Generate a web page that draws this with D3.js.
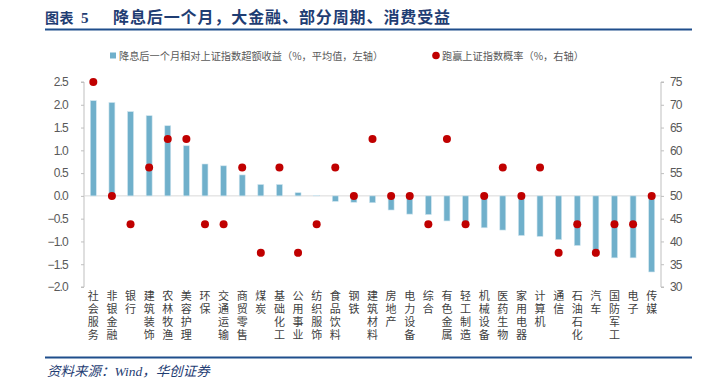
<!DOCTYPE html>
<html><head><meta charset="utf-8">
<script src="https://cdn.jsdelivr.net/npm/d3@7/dist/d3.min.js"></script>
<style>
body{margin:0;background:#fff;}
svg{display:block;}
</style></head>
<body>
<svg id="c" width="702" height="383"></svg>
<script>
const categories = ["社会服务","非银金融","银行","建筑装饰","农林牧渔","美容护理","环保","交通运输","商贸零售","煤炭","基础化工","公用事业","纺织服饰","食品饮料","钢铁","建筑材料","房地产","电力设备","综合","有色金属","轻工制造","机械设备","医药生物","家用电器","计算机","通信","石油石化","汽车","国防军工","电子","传媒"];
const excessReturn = [2.09,2.05,1.85,1.76,1.54,1.10,0.70,0.66,0.46,0.25,0.25,0.07,0.01,-0.12,-0.14,-0.15,-0.31,-0.40,-0.41,-0.55,-0.64,-0.70,-0.75,-0.87,-0.89,-0.96,-1.09,-1.21,-1.36,-1.36,-1.67];
const winRate = [75,50,43.75,56.25,62.5,62.5,43.75,43.75,56.25,37.5,56.25,37.5,43.75,56.25,50,62.5,50,50,43.75,62.5,43.75,50,56.25,50,56.25,37.5,43.75,37.5,43.75,43.75,50];
const leftTicks = [2.5,2.0,1.5,1.0,0.5,0.0,-0.5,-1.0,-1.5,-2.0];
const rightTicks = [75,70,65,60,55,50,45,40,35,30];
const titleLabel = "图表";
const titleNum = "5";
const titleText = "降息后一个月，大金融、部分周期、消费受益";
const legendBar = "降息后一个月相对上证指数超额收益（%，平均值，左轴）";
const legendDot = "跑赢上证指数概率（%，右轴）";
const sourceText = "资料来源：Wind，华创证券";

const svg = d3.select("#c");
const L = 84, R = 661, T = 82, B = 287;
const x = d3.scaleBand().domain(categories).range([L, R]).paddingInner(0.68).paddingOuter(0.34);
const yL = d3.scaleLinear().domain([-2, 2.5]).range([B, T]);
const yR = d3.scaleLinear().domain([30, 75]).range([B, T]);
const cjk = "'Noto Sans CJK SC','Noto Sans',sans-serif";
const serifCjk = "'Liberation Serif','Noto Sans CJK SC',serif";
const navy = "#1f3d73";

// title
svg.append("text").attr("x", 45).attr("y", 23).attr("font-family", serifCjk).attr("font-weight", "bold")
  .attr("font-size", 14).attr("letter-spacing", 0.5).attr("fill", navy).text(titleLabel);
svg.append("text").attr("x", 81).attr("y", 23).attr("font-family", serifCjk).attr("font-weight", "bold")
  .attr("font-size", 15).attr("fill", navy).text(titleNum);
svg.append("text").attr("x", 113).attr("y", 23).attr("font-family", serifCjk).attr("font-weight", "bold")
  .attr("font-size", 16).attr("letter-spacing", 0.9).attr("fill", navy).text(titleText);
svg.append("line").attr("x1", 45).attr("x2", 692).attr("y1", 29.5).attr("y2", 29.5)
  .attr("stroke", "#1f4e8c").attr("stroke-width", 2);

// legend
svg.append("rect").attr("x", 110).attr("y", 52.5).attr("width", 6).attr("height", 6).attr("fill", "#70b0cb");
svg.append("text").attr("x", 119).attr("y", 59.5).attr("font-family", cjk).attr("font-size", 10.2)
  .attr("fill", "#595959").text(legendBar);
svg.append("circle").attr("cx", 436).attr("cy", 55.5).attr("r", 3.8).attr("fill", "#c00000");
svg.append("text").attr("x", 442).attr("y", 59.5).attr("font-family", cjk).attr("font-size", 10.2)
  .attr("fill", "#595959").text(legendDot);

// axes
const axL = d3.axisLeft(yL).tickValues(leftTicks).tickSize(3).tickPadding(13).tickFormat(d3.format(".1f"));
const gL = svg.append("g").attr("transform", `translate(${L},0)`).call(axL);
const axR = d3.axisRight(yR).tickValues(rightTicks).tickSize(3).tickPadding(6).tickFormat(d3.format("d"));
const gR = svg.append("g").attr("transform", `translate(${R},0)`).call(axR);
[gL, gR].forEach(g => {
  g.select(".domain").attr("stroke", "#bfbfbf").attr("d", g === gL ? `M-3,${T}H0V${B}H-3` : `M3,${T}H0V${B}H3`);
  g.selectAll(".tick line").attr("stroke", "#bfbfbf");
  g.selectAll(".tick text").attr("font-family", "'Liberation Sans',Arial,sans-serif").attr("font-size", 12)
    .attr("fill", "#595959").attr("letter-spacing", "-0.8");
});

// zero line
svg.append("line").attr("x1", L).attr("x2", R).attr("y1", yL(0)).attr("y2", yL(0))
  .attr("stroke", "#d9d9d9").attr("stroke-width", 1);

// bars
svg.append("g").selectAll("rect").data(categories).join("rect")
  .attr("x", d => x(d))
  .attr("width", x.bandwidth())
  .attr("y", (d, i) => Math.min(yL(excessReturn[i]), yL(0)))
  .attr("height", (d, i) => Math.abs(yL(excessReturn[i]) - yL(0)))
  .attr("fill", "#70b0cb").attr("stroke", "#cfe5ef").attr("stroke-width", 0.6);

// dots
svg.append("g").selectAll("circle").data(categories).join("circle")
  .attr("cx", d => x(d) + x.bandwidth() / 2)
  .attr("cy", (d, i) => yR(winRate[i]))
  .attr("r", 4).attr("fill", "#c00000");

// x labels (vertical writing)
svg.append("g").selectAll("text").data(categories).join("text")
  .attr("x", d => x(d) + x.bandwidth() / 2)
  .attr("y", 290)
  .attr("writing-mode", "vertical-rl")
  .attr("letter-spacing", 2)
  .attr("font-family", cjk).attr("font-size", 11).attr("fill", "#404040")
  .text(d => d);

// footer
svg.append("line").attr("x1", 45).attr("x2", 692).attr("y1", 357.5).attr("y2", 357.5)
  .attr("stroke", "#1f4e8c").attr("stroke-width", 1.8);
svg.append("text").attr("x", 47).attr("y", 376).attr("font-family", serifCjk).attr("font-style", "italic")
  .attr("font-size", 13.5).attr("fill", navy).text(sourceText);
</script>
</body></html>
